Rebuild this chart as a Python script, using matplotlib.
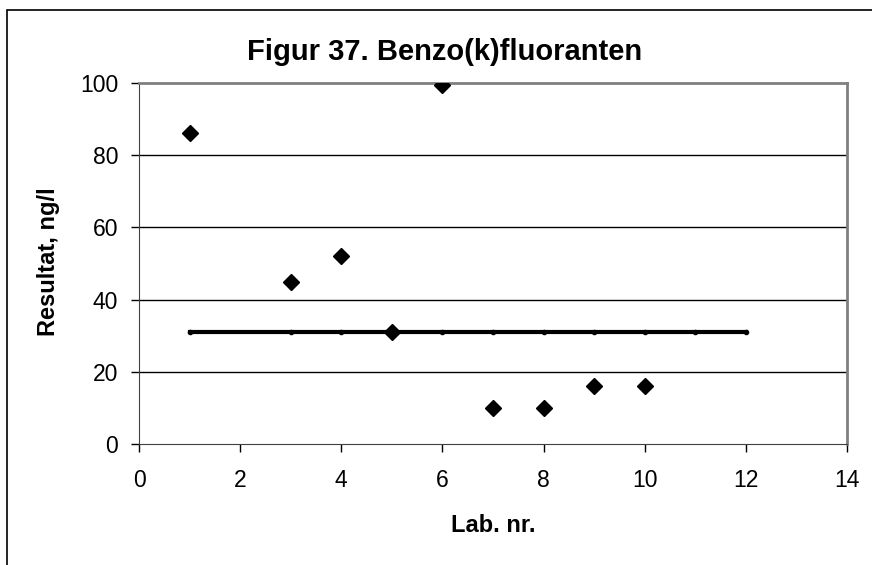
import matplotlib.pyplot as plt
from matplotlib.patches import Rectangle

# Lab results (ng/l) and the assigned value line
labs = [1, 3, 4, 5, 6, 7, 8, 9, 10]
results = [86.2, 45.0, 52.0, 31.0, 99.5, 10.0, 10.0, 16.0, 16.0]

ref_labs = [1, 3, 4, 5, 6, 7, 8, 9, 10, 11, 12]
ref_value = 31.0

x_ticks = [0, 2, 4, 6, 8, 10, 12, 14]
y_ticks = [0, 20, 40, 60, 80, 100]

title = "Figur 37. Benzo(k)fluoranten"
xlabel = "Lab. nr."
ylabel = "Resultat, ng/l"


def _main():
    plt.rcParams['font.family'] = ['Liberation Sans', 'DejaVu Sans']

    fig = plt.figure(figsize=(8.72, 5.65), dpi=100)
    ax = fig.add_axes([139 / 872, 1 - 444 / 565, 708 / 872, 361 / 565])

    # outer frame of the chart
    fig.patches.append(Rectangle((7 / 872, -0.02), 1.0, 1 - 10 / 565 + 0.02,
                                 transform=fig.transFigure, fill=False,
                                 edgecolor='black', linewidth=1.2))

    ax.set_xlim(0, 14)
    ax.set_ylim(0, 100)
    ax.set_xticks(x_ticks)
    ax.set_yticks(y_ticks)
    ax.tick_params(axis='both', direction='out', length=6, width=1,
                   color='black', labelsize=16.5)
    ax.tick_params(axis='y', pad=9)
    ax.tick_params(axis='x', pad=12)

    for y in y_ticks[1:-1]:
        ax.axhline(y, color='black', linewidth=1, zorder=1)

    ax.spines['top'].set_color('#808080')
    ax.spines['right'].set_color('#808080')
    ax.spines['top'].set_linewidth(2)
    ax.spines['right'].set_linewidth(2)
    ax.spines['left'].set_color('#404040')
    ax.spines['bottom'].set_color('#404040')

    ax.plot(ref_labs, [ref_value] * len(ref_labs), color='black',
            linewidth=3, marker='o', markersize=3, zorder=2)
    ax.plot(labs, results, linestyle='none', marker='D', markersize=8,
            color='black', zorder=3)

    fig.text(445 / 872, 1 - 52 / 565, title, ha='center', va='center',
             fontsize=21, fontweight='bold')
    fig.text(493 / 872, 1 - 525 / 565, xlabel, ha='center', va='center',
             fontsize=17, fontweight='bold')
    fig.text(49 / 872, 1 - 262 / 565, ylabel, ha='center', va='center',
             fontsize=17, fontweight='bold', rotation=90)

    fig.savefig('out.png', dpi=100)


if __name__ == '__main__':
    _main()
